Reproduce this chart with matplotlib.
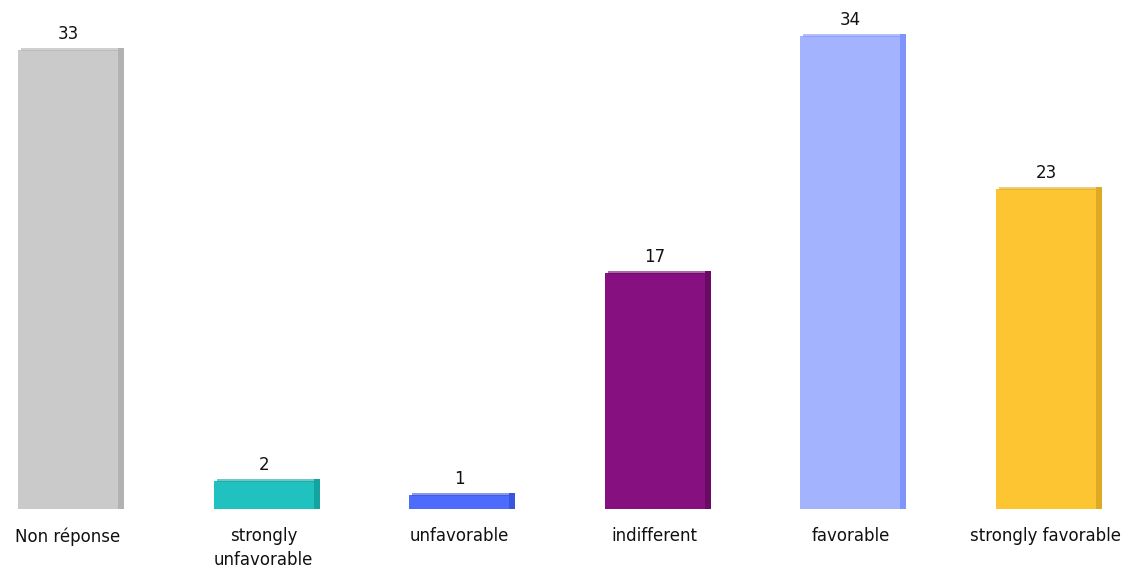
import matplotlib.pyplot as plt
from matplotlib.patches import Rectangle

categories = ['Non réponse', 'strongly\nunfavorable', 'unfavorable',
              'indifferent', 'favorable', 'strongly favorable']
values = [33, 2, 1, 17, 34, 23]
front_colors = ['#cacaca', '#1fc2be', '#4e6cfc', '#861080', '#a4b3fd', '#fdc532']
side_colors = ['#b2b2b2', '#15a39f', '#3a55dd', '#6a0a65', '#7f95fb', '#deaa22']

fig = plt.figure(figsize=(11.41, 5.72), dpi=100)
ax = fig.add_axes([0, 0, 1, 1])

px_x = 195.6    # pixels per category
px_y = 13.9     # pixels per unit
ax.set_xlim(-68 / px_x, (1141 - 68) / px_x)
ax.set_ylim(-(572 - 509) / px_y, 509 / px_y)
ax.axis('off')

width = 100 / px_x
side = 6 / px_x
lift = 2 / px_y

for i, (v, fc, sc) in enumerate(zip(values, front_colors, side_colors)):
    x0 = i - width / 2
    # side face (3d depth)
    ax.add_patch(Rectangle((x0 + width, 0), side, v + lift, facecolor=sc,
                           edgecolor='none'))
    # front face
    ax.add_patch(Rectangle((x0, 0), width, v, facecolor=fc, edgecolor='none'))
    # top edge
    ax.add_patch(Rectangle((x0 + 3 / px_x, v - 1 / px_y), width + side - 3 / px_x,
                           lift + 1 / px_y, facecolor=sc, edgecolor='none', alpha=0.6))
    ax.text(i, v + 16 / px_y, str(v), ha='center', va='center',
            fontsize=12, color='#111111')
    ax.text(i, -18 / px_y, categories[i], ha='center', va='top',
            fontsize=12, color='#111111', linespacing=1.45)

fig.savefig('out.png', dpi=100)
